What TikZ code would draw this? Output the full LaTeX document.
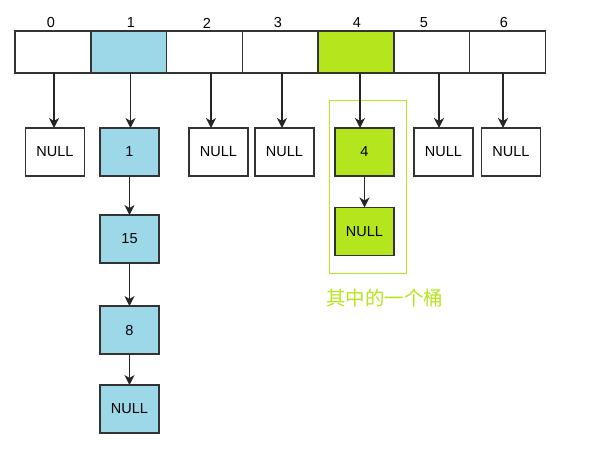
\documentclass[tikz,border=0pt]{standalone}
\usepackage{fontspec}
\setmainfont{Liberation Sans}
\newfontfamily\cjk{Noto Sans CJK SC}
\usetikzlibrary{arrows.meta}
\definecolor{hblue}{HTML}{9DD8E9}
\definecolor{hgreen}{HTML}{B5E61D}
\definecolor{hline}{HTML}{333333}
\tikzset{
  cell/.style={draw=hline, line width=1.5pt, minimum width=75.76pt, minimum height=42pt, inner sep=0pt, outer sep=0pt},
  box/.style={draw=hline, line width=1.5pt, minimum width=59pt, minimum height=48pt, inner sep=0pt, outer sep=0pt, font=\fontsize{14.5}{16}\selectfont},
  idx/.style={font=\fontsize{14.5}{16}\selectfont, inner sep=0pt},
  arr/.style={draw=black!85, line width=1.5pt, -{Stealth[length=10pt, width=10pt, inset=3pt]}},
}
\begin{document}
\begin{tikzpicture}[x=1pt, y=-1pt]
\useasboundingbox (0,0) rectangle (593,453);
% array cells
\foreach \i/\f in {0/white,1/hblue,2/white,3/white,4/hgreen,5/white,6/white}{
  \node[cell, fill=\f] (c\i) at ({15+75.76*(\i+0.5)},52) {};
}
% index labels
\node[idx] (l0) at (51,23) {0};
\node[idx] (l1) at (131,23) {1};
\node[idx] (l2) at (207,23) {2};
\node[idx] (l3) at (278,23) {3};
\node[idx] (l4) at (357,23) {4};
\node[idx] (l5) at (424,23) {5};
\node[idx] (l6) at (504,23) {6};
% bucket frame
\node[draw=hgreen, line width=0.8pt, minimum width=77pt, minimum height=173pt, inner sep=0pt] (frame) at (367.5,186.5) {};
% first-level nodes
\node[box] (n0) at (55,152) {NULL};
\node[box, fill=hblue] (n1) at (129.5,152) {1};
\node[box] (n2) at (218.5,152) {NULL};
\node[box] (n3) at (284.5,152) {NULL};
\node[box, fill=hgreen] (n4) at (364.5,152) {4};
\node[box] (n5) at (443.5,152) {NULL};
\node[box] (n6) at (511,152) {NULL};
% chains
\node[box, fill=hblue] (n15) at (129.5,239) {15};
\node[box, fill=hblue] (n8) at (129.5,330) {8};
\node[box, fill=hblue] (n1null) at (129.5,409) {NULL};
\node[box, fill=hgreen] (n4null) at (364.5,231.5) {NULL};
% caption
\node[text=hgreen, font=\cjk\fontsize{19.5}{21}\selectfont, inner sep=0pt, anchor=west] (cap) at (326,298) {其中的一个桶};
% arrow x positions
\coordinate (a0) at (54,0);
\coordinate (a1) at (130.5,0);
\coordinate (a2) at (211,0);
\coordinate (a3) at (282,0);
\coordinate (a4) at (360,0);
\coordinate (a5) at (439,0);
\coordinate (a6) at (503,0);
\foreach \i in {0,...,6}{
  \draw[arr] (c\i.south -| a\i) -- (n\i.north -| a\i);
}
\draw[arr] (n1) -- (n15);
\draw[arr] (n15) -- (n8);
\draw[arr] (n8) -- (n1null);
\draw[arr] (n4) -- (n4null);
\end{tikzpicture}
\end{document}
